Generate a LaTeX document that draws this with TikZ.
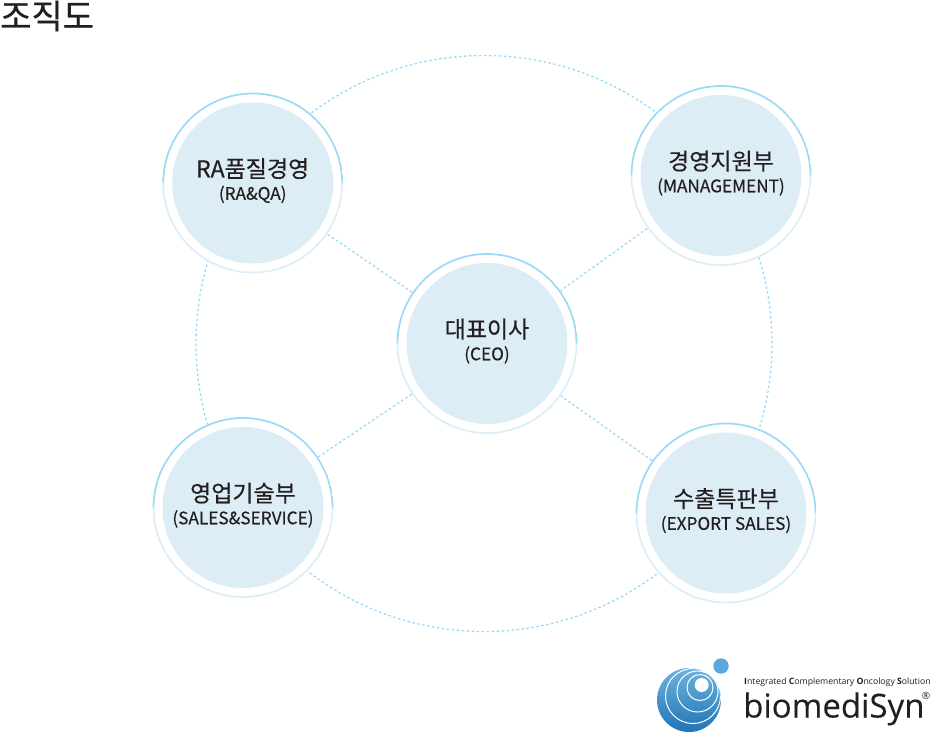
\documentclass[tikz,border=0pt]{standalone}
\usepackage{fontspec}
\setmainfont[FakeBold=0.4]{Noto Sans CJK KR}
\newfontfamily\medfont[FakeBold=0.6]{Noto Sans CJK KR}
\newfontfamily\brandfont[FakeBold=0.2]{Open Sans}
\newfontfamily\latinfont{Open Sans}
\definecolor{ringtop}{HTML}{9BDAF6}
\definecolor{ringlow}{HTML}{DCEEF8}
\definecolor{discfill}{HTML}{DDEDF6}
\definecolor{inktext}{HTML}{231F20}
\definecolor{logolight}{HTML}{6DB3DE}
\definecolor{logodark}{HTML}{1F75B5}
\definecolor{logoball}{HTML}{5AA8DC}
\tikzset{
  link/.style={draw=ringtop,line width=1.3pt,dash pattern=on 2.5pt off 2.5pt},
  dept/.style={circle,minimum size=181pt,inner sep=0pt,fill=white,align=center,text=inktext,
    font=\fontsize{23}{20}\selectfont,
    path picture={
      \fill[discfill] (path picture bounding box.center) circle[radius=80.5pt];
      \draw[ringtop,line width=1.7pt] ([xshift=-89.5pt]path picture bounding box.center) arc[start angle=180,end angle=0,radius=89.5pt];
      \draw[ringlow,line width=1.7pt] ([xshift=-89.5pt]path picture bounding box.center) arc[start angle=180,end angle=360,radius=89.5pt];
    }},
}
\newcommand{\subt}[1]{\\[2.5pt]{\fontsize{17.2}{15}\selectfont #1\rule[-8pt]{0pt}{1pt}}}
\begin{document}
\begin{tikzpicture}[x=1pt,y=-1pt]
\useasboundingbox (0,0) rectangle (931,733);
\node[font=\medfont\fontsize{34}{34}\selectfont,text=inktext,anchor=west,inner sep=0pt] (title) at (0,16) {조직도};
\node[circle,minimum size=576pt,inner sep=0pt,link] (orbit) at (484,343.5) {};
\coordinate (ceoc) at (487,343.5);
\node[dept] (ra) at (252.7,183) {RA품질경영\subt{(RA\&QA)}};
\node[dept] (mg) at (721,175.5) {경영지원부\subt{(MANAGEMENT)}};
\node[dept] (sv) at (243,507.5) {영업기술부\subt{(SALES\&SERVICE)}};
\node[dept] (ex) at (726,513) {수출특판부\subt{(EXPORT SALES)}};
\node[dept] (ceo) at (ceoc) {대표이사\subt{(CEO)}};
\draw[link] (ra) -- (ceo);
\draw[link] (mg) -- (ceo);
\draw[link] (sv) -- (ceo);
\draw[link] (ex) -- (ceo);
% logo
\coordinate (lg) at (689,700);
\begin{scope}
\clip (lg) circle[radius=32pt];
\shade[top color=logolight,bottom color=logodark] (lg) circle[radius=32pt];
\fill[white] (701.7,685) circle[radius=7pt];
\draw[white,line width=1pt] (700,687.5) circle[radius=13pt];
\draw[white,line width=1pt] (697.5,691.5) circle[radius=20.5pt];
\draw[white,line width=1pt] (693,696) circle[radius=27.5pt];
\end{scope}
\fill[logoball] (721,666) circle[radius=7.7pt];
\node[anchor=west,inner sep=0pt,text=inktext,font=\latinfont\fontsize{8.7}{9}\selectfont] (tag) at (744,682.5) {\textbf{I}ntegrated \textbf{C}omplementary \textbf{O}ncology \textbf{S}olution};
\node[anchor=base west,inner sep=0pt,text=inktext,font=\brandfont\fontsize{33}{33}\selectfont] (brand) at (743,717.5) {biomediSyn};
\node[anchor=center,inner sep=0pt,text=inktext,font=\latinfont\fontsize{10}{10}\selectfont] (reg) at (926,696) {®};
\end{tikzpicture}
\end{document}
